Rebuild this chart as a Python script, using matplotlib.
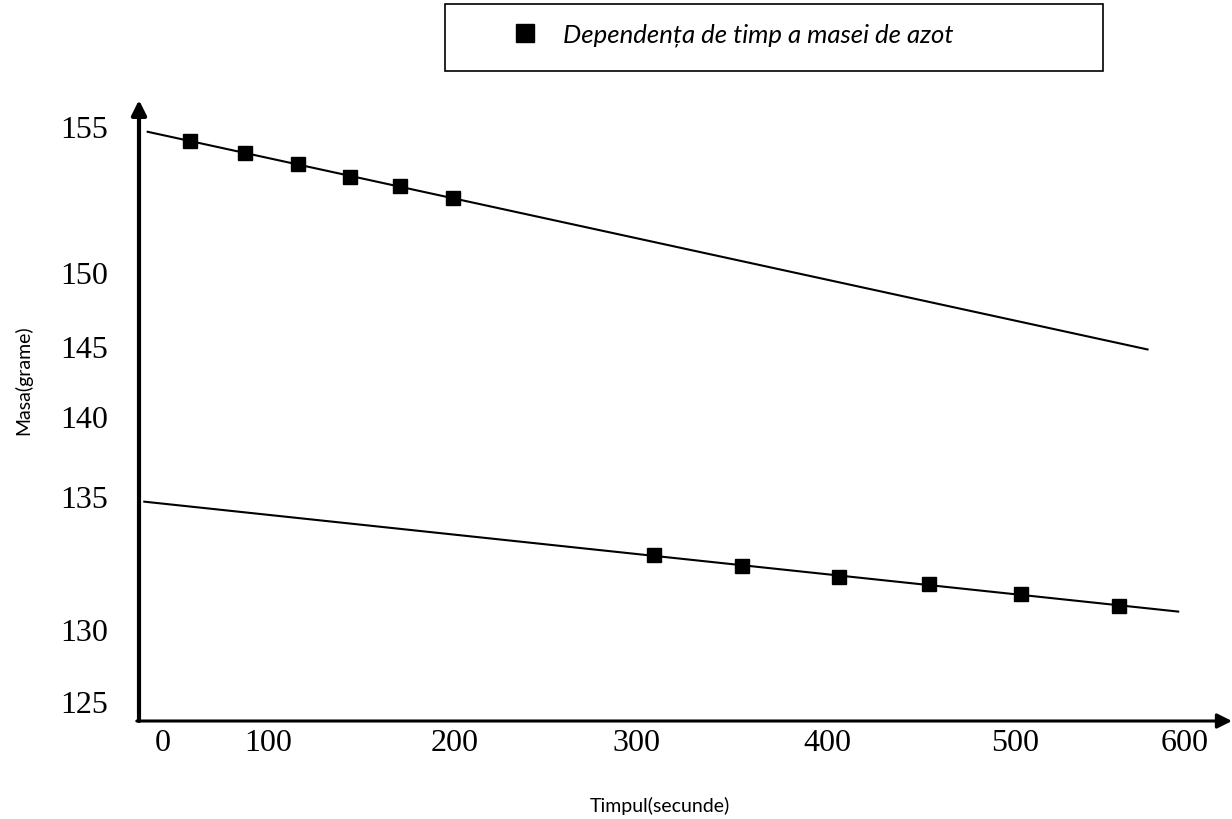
import numpy as np
import matplotlib.pyplot as plt
import matplotlib.patches as mpatches

# --- date ---
# prima serie (primele 200 s)
t_sus = [16, 48, 79, 110, 139, 170]
m_sus = [154.29, 153.63, 153.07, 152.38, 151.92, 151.30]
# a doua serie (dupa 300 s)
t_jos = [288, 340, 397, 450, 504, 561]
m_jos = [132.67, 132.10, 131.52, 131.16, 130.64, 130.01]

# intinderea dreptelor de tendinta (secunde)
domeniu_sus = [-9, 578]
domeniu_jos = [-11, 596]

# etichetele axelor, asa cum sunt asezate in desen
x_pozitii = [0, 62, 171, 278, 390, 500, 600]
x_etichete = ['0', '100', '200', '300', '400', '500', '600']
y_pozitii = [155, 147.38, 143.52, 139.87, 135.70, 128.76, 125]
y_etichete = ['155', '150', '145', '140', '135', '130', '125']

legenda = 'Dependența de timp a masei de azot'
# ------------------------------

W, H = 1232, 819
fig = plt.figure(figsize=(W / 100, H / 100), dpi=100)
ax = fig.add_axes([139 / W, (H - 721) / H, (W - 139) / W, (721 - 100) / H])
ax.set_xlim(-14.1, 627.6)
ax.set_ylim(124.01, 156.41)

# dreptele de tendinta
for t, m, dom in [(t_sus, m_sus, domeniu_sus), (t_jos, m_jos, domeniu_jos)]:
    panta, intercept = np.polyfit(t, m, 1)
    tt = np.array(dom)
    ax.plot(tt, panta * tt + intercept, color='black', lw=1.5, zorder=2)

ax.plot(t_sus, m_sus, 's', color='black', ms=9.5, zorder=3, label=legenda)
ax.plot(t_jos, m_jos, 's', color='black', ms=9.5, zorder=3)

# axele cu sageti
for s in ax.spines.values():
    s.set_visible(False)
ax.annotate('', xy=(0, 1), xytext=(0, 0), xycoords='axes fraction',
            arrowprops=dict(arrowstyle='-|>', lw=3.0, color='black',
                            mutation_scale=22, shrinkA=0, shrinkB=0))
ax.annotate('', xy=(1, 0), xytext=(-0.002, 0), xycoords='axes fraction',
            arrowprops=dict(arrowstyle='-|>', lw=2.2, color='black',
                            mutation_scale=22, shrinkA=0, shrinkB=0))

ax.set_xticks(x_pozitii, x_etichete)
ax.set_yticks(y_pozitii, y_etichete)
ax.tick_params(axis='both', length=0, labelsize=23)
ax.tick_params(axis='y', pad=22)
ax.tick_params(axis='x', pad=6)
for lbl in ax.get_xticklabels() + ax.get_yticklabels():
    lbl.set_fontfamily('Liberation Serif')

fig.text(23 / W, 1 - 380 / H, 'Masa(grame)', rotation=90, ha='center', va='center',
         fontsize=14, family='Lato')
fig.text(660 / W, 1 - 806 / H, 'Timpul(secunde)', ha='center', va='center',
         fontsize=14, family='Lato')

# caseta legendei
fig.patches.append(mpatches.Rectangle((445 / W, 1 - 71 / H), 658 / W, 67 / H,
                                      transform=fig.transFigure, fill=False,
                                      edgecolor='black', lw=1.2))
fig.legend(loc='center left', bbox_to_anchor=(492 / W, 1 - 35 / H), frameon=False,
           borderpad=0, markerscale=1.35, handlelength=1.6, handletextpad=0.65,
           prop={'family': 'Lato', 'style': 'italic', 'size': 18.5})

plt.savefig('out.png', dpi=100)
